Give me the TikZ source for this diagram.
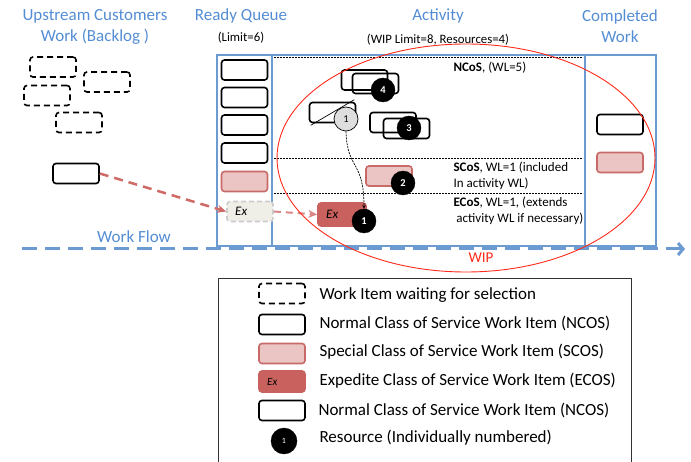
\documentclass[tikz,border=0pt]{standalone}
\usepackage{fontspec}
\setmainfont{Carlito}
\usetikzlibrary{arrows.meta}

\definecolor{titleblue}{RGB}{84,141,212}
\definecolor{laneblue}{RGB}{108,155,210}
\definecolor{scosfill}{RGB}{235,196,196}
\definecolor{scosline}{RGB}{200,106,104}
\definecolor{ecosfill}{RGB}{201,98,94}
\definecolor{ghostfill}{RGB}{239,239,232}
\definecolor{ghostline}{RGB}{204,204,204}
\definecolor{pullred}{RGB}{208,106,102}
\definecolor{wipred}{RGB}{255,42,26}
\definecolor{resgray}{RGB}{222,222,222}

\tikzset{
  witem/.style={draw=black, line width=1.6pt, rounded corners=3pt, minimum width=46pt, minimum height=20pt, inner sep=0pt},
  waiting/.style={witem, dash pattern=on 6pt off 4pt},
  scos/.style={witem, draw=scosline, fill=scosfill},
  ecos/.style={witem, draw=ecosfill, fill=ecosfill},
  ghost/.style={witem, draw=ghostline, fill=ghostfill, dash pattern=on 5pt off 3pt},
  res/.style={circle, fill=black, draw=black, text=white, minimum size=24pt, inner sep=0pt, font=\fontsize{10.5}{10.5}\selectfont\bfseries},
  exlabel/.style={font=\fontsize{13}{13}\selectfont\itshape},
  title/.style={text=titleblue, align=center, font=\fontsize{17}{21}\selectfont},
  note/.style={font=\fontsize{12.8}{15}\selectfont},
  bandnote/.style={anchor=west, align=left, font=\fontsize{13}{16}\selectfont},
  legendtext/.style={anchor=west, font=\fontsize{17}{18}\selectfont},
  lane/.style={draw=laneblue, line width=2pt},
  band/.style={dash pattern=on 2pt off 1pt, line width=0.7pt},
  pull/.style={draw=pullred, line width=2.5pt, dash pattern=on 9pt off 6pt, -{Stealth[length=9pt,width=8pt]}},
  flow/.style={draw=laneblue, line width=3pt, dash pattern=on 15pt off 8pt, -{Straight Barb[length=5pt,width=12pt]}},
}

\begin{document}
\begin{tikzpicture}[x=1pt,y=-1pt]
\useasboundingbox (0,0) rectangle (691,462);

% column titles
\node[title] (uptitle) at (95,26.5) {Upstream Customers\\Work (Backlog )};
\node[title] (rqtitle) at (241,16) {Ready Queue};
\node[note] (rqlimit) at (241,38) {(Limit=6)};
\node[title] (acttitle) at (438,16) {Activity};
\node[note] (actlimit) at (438,40) {(WIP Limit=8, Resources=4)};
\node[title] (donetitle) at (620,26.5) {Completed\\Work};

% lanes
\draw[lane] (217,55) rectangle (272,246);
\draw[lane] (272,55) rectangle (585,246);
\draw[lane] (585,55) rectangle (656,246);
\draw[band] (274,57) -- (583,57);
\draw[band] (274,158) -- (583,158);
\draw[band] (274,193) -- (583,193);

% work flow
\coordinate (flowstart) at (22,249);
\coordinate (flowend) at (685,249);
\draw[flow] (flowstart) -- (flowend);
\node[title] (flowlabel) at (134,237) {Work Flow};

% backlog
\node[waiting] (back1) at (53,67) {};
\node[waiting] (back2) at (107,82) {};
\node[waiting] (back3) at (47,95.5) {};
\node[waiting] (back4) at (79,122.5) {};
\node[witem] (picked) at (76,173.5) {};

% ready queue
\node[witem] (rq1) at (244.5,70) {};
\node[witem] (rq2) at (244.5,97.5) {};
\node[witem] (rq3) at (244.5,125) {};
\node[witem] (rq4) at (244.5,153) {};
\node[scos] (rq5) at (244.5,181.5) {};
\node[ghost] (rqex) at (250,211.5) {};
\node[exlabel] at ([xshift=15pt]rqex.west) {Ex};

% activity, NCoS band
\node[witem] (n4back) at (375.5,83.5) {};
\node[witem] (n4) at (364.5,80) {};
\node[res] (r4) at (383,90) {4};
\node[witem] (n1) at (332.5,112.5) {};
\draw[line width=0.7pt] ([shift={(2pt,-2pt)}]n1.south west) -- ([shift={(-2pt,2pt)}]n1.north east);
\node[res, fill=resgray, text=black, line width=0.7pt, font=\fontsize{10.5}{10.5}\selectfont] (r1) at (346,119) {1};
\node[witem] (n3back) at (406.5,128.5) {};
\node[witem] (n3) at (393,122.5) {};
\node[res] (r3) at (409,128) {3};
\node[bandnote] (ncos) at (450,68) {\textbf{NCoS}, (WL=5)};

% activity, SCoS band
\node[scos] (s2) at (389,176) {};
\node[res] (r2) at (403,183) {2};
\node[bandnote] (scosnote) at (450,176) {\textbf{SCoS}, WL=1 (included\\In activity WL)};

% activity, ECoS band
\node[ecos, minimum width=48pt, minimum height=23pt] (exact) at (342,214.5) {};
\node[exlabel] at ([xshift=15pt]exact.west) {Ex};
\node[res] (r1b) at (364,221) {1};
\node[bandnote] (ecosnote) at (450,211) {\textbf{ECoS}, WL=1, (extends\\\ activity WL if necessary)};

% resource 1 moves to the expedite item
\draw[band, -{Stealth[length=4pt,width=3.5pt]}] (r1.south) .. controls (347,170) and (364,160) .. (r1b.north);

% pulls
\draw[pull] (picked.east) -- (rqex.west);
\draw[pull, line width=2pt, draw=pullred!80, dash pattern=on 7pt off 5pt] (rqex.east) -- (exact.west);

% completed
\node[witem] (done1) at (620,124.5) {};
\node[scos] (done2) at (620,162.5) {};

% WIP limit
\draw[wipred, line width=0.9pt] (466,158) ellipse [x radius=189, y radius=114];
\node[text=wipred, font=\fontsize{15}{15}\selectfont] (wiplabel) at (481,258) {WIP};

% legend
\draw[line width=0.8pt, draw=black!80] (218,278) rectangle (631,475);
\node[waiting] (lg1) at (282,293.5) {};
\node[legendtext] at (316,295) {Work Item waiting for selection};
\node[witem] (lg2) at (282,324.5) {};
\node[legendtext] at (316,323) {Normal Class of Service Work Item (NCOS)};
\node[scos] (lg3) at (282,353.5) {};
\node[legendtext] at (316,352) {Special Class of Service Work Item (SCOS)};
\node[ecos, minimum height=21pt] (lg4) at (282,381.5) {};
\node[exlabel, font=\fontsize{11}{11}\selectfont\itshape] at ([xshift=14pt]lg4.west) {Ex};
\node[legendtext] at (316,381) {Expedite Class of Service Work Item (ECOS)};
\node[witem] (lg5) at (282,410.5) {};
\node[legendtext] at (315,410) {Normal Class of Service Work Item (NCOS)};
\node[res, minimum size=26pt, font=\fontsize{8}{8}\selectfont] (lg6) at (284,441) {1};
\node[legendtext] at (316,438) {Resource (Individually numbered)};
\end{tikzpicture}
\end{document}
